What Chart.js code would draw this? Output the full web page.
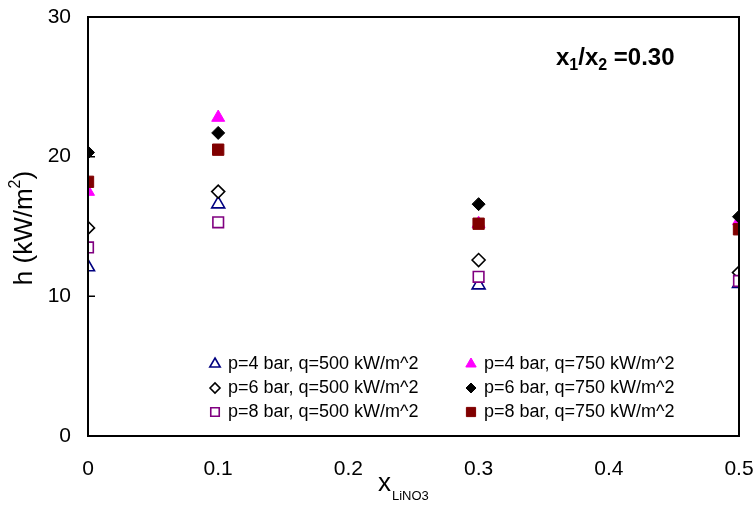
<!DOCTYPE html>
<html>
<head>
<meta charset="utf-8">
<script src="https://cdn.jsdelivr.net/npm/chart.js@4.4.1/dist/chart.umd.min.js"></script>
<style>
  body { margin: 0; background: #fff; }
  #wrap { width: 756px; height: 510px; }
</style>
</head>
<body>
<div id="wrap"><canvas id="hChart" width="756" height="510"></canvas></div>
<script>
// x_LiNO3 values and heat transfer coefficient h (kW/m2)
const xLiNO3 = [0, 0.1, 0.3, 0.5];
const p4q500 = [12.1, 16.6, 10.8, 10.9];
const p4q750 = [17.5, 22.8, 15.2, 15.4];
const p6q500 = [14.9, 17.5, 12.6, 11.7];
const p6q750 = [20.3, 21.7, 16.6, 15.7];
const p8q500 = [13.5, 15.3, 11.4, 11.1];
const p8q750 = [18.2, 20.5, 15.2, 14.8];

const seriesLabels = [
  "p=4 bar, q=500 kW/m^2",
  "p=4 bar, q=750 kW/m^2",
  "p=6 bar, q=500 kW/m^2",
  "p=6 bar, q=750 kW/m^2",
  "p=8 bar, q=500 kW/m^2",
  "p=8 bar, q=750 kW/m^2",
];
const xTicks = [0, 0.1, 0.2, 0.3, 0.4, 0.5];
const yTicks = [0, 10, 20, 30];

const FONT = "'Liberation Sans', Arial, sans-serif";

function pts(values) {
  return values.map((v, i) => ({ x: xLiNO3[i], y: v }));
}

function makeSet(label, values, style, color, filled, radius, idx) {
  return {
    label: label,
    data: pts(values),
    pointStyle: style,
    pointRadius: radius,
    pointHoverRadius: radius,
    pointBorderColor: color,
    pointBackgroundColor: filled ? color : "#ffffff",
    pointBorderWidth: filled ? 1 : 1.6,
    showLine: false,
    order: 6 - idx,
  };
}

const datasets = [
  makeSet(seriesLabels[0], p4q500, "triangle", "#000080", false, 7.5, 0),
  makeSet(seriesLabels[1], p4q750, "triangle", "#ff00ff", true, 7.5, 1),
  makeSet(seriesLabels[2], p6q500, "rectRot", "#000000", false, 6.5, 2),
  makeSet(seriesLabels[3], p6q750, "rectRot", "#000000", true, 6.5, 3),
  makeSet(seriesLabels[4], p8q500, "rect", "#800080", false, 7.5, 4),
  makeSet(seriesLabels[5], p8q750, "rect", "#800000", true, 8, 5),
];

// box, inner ticks, titles, annotation and the in-plot legend
const decor = {
  id: "decor",
  afterDraw(chart) {
    const ctx = chart.ctx;
    const a = chart.chartArea;
    const ys = chart.scales.y;
    ctx.save();

    ctx.strokeStyle = "#000";
    ctx.lineWidth = 2;
    ctx.strokeRect(a.left, a.top, a.right - a.left, a.bottom - a.top);

    ctx.lineWidth = 1.5;
    ctx.beginPath();
    yTicks.slice(1, -1).forEach((t) => {
      const y = ys.getPixelForValue(t);
      ctx.moveTo(a.left, y);
      ctx.lineTo(a.left + 7, y);
    });
    ctx.stroke();

    // y title: h (kW/m^2)
    ctx.fillStyle = "#000";
    ctx.save();
    ctx.translate(25, 228);
    ctx.rotate(-Math.PI / 2);
    ctx.textBaseline = "middle";
    ctx.textAlign = "left";
    const t1 = "h (kW/m";
    ctx.font = "26px " + FONT;
    const w1 = ctx.measureText(t1).width;
    ctx.font = "16px " + FONT;
    const w2 = ctx.measureText("2").width;
    ctx.font = "26px " + FONT;
    const w3 = ctx.measureText(")").width;
    const sx = -(w1 + w2 + w3) / 2;
    ctx.fillText(t1, sx, 0);
    ctx.font = "16px " + FONT;
    ctx.fillText("2", sx + w1, -9);
    ctx.font = "26px " + FONT;
    ctx.fillText(")", sx + w1 + w2, 0);
    ctx.restore();

    // x title: x_LiNO3
    ctx.textAlign = "left";
    ctx.textBaseline = "alphabetic";
    ctx.font = "26px " + FONT;
    ctx.fillText("x", 378, 491);
    ctx.font = "13px " + FONT;
    ctx.fillText("LiNO3", 392, 500);

    // annotation x1/x2 =0.30
    let ax = 556;
    const ay = 65;
    const parts = [
      ["x", "bold 24px", 0],
      ["1", "bold 16px", 5],
      ["/x", "bold 24px", 0],
      ["2", "bold 16px", 5],
      [" =0.30", "bold 24px", 0],
    ];
    parts.forEach((p) => {
      ctx.font = p[1] + " " + FONT;
      ctx.fillText(p[0], ax, ay + p[2]);
      ax += ctx.measureText(p[0]).width;
    });

    // legend, two columns
    const colX = [215, 471];
    const rowY = [363, 387, 411];
    ctx.font = "18px " + FONT;
    ctx.textBaseline = "middle";
    chart.data.datasets.forEach((ds, i) => {
      const cx = colX[i % 2];
      const cy = rowY[Math.floor(i / 2)];
      ctx.fillStyle = ds.pointBackgroundColor;
      ctx.strokeStyle = ds.pointBorderColor;
      ctx.lineWidth = ds.pointBorderWidth;
      Chart.helpers.drawPoint(ctx, {
        pointStyle: ds.pointStyle,
        radius: ds.pointRadius - 1.5,
        rotation: 0,
        borderWidth: ds.pointBorderWidth,
      }, cx, cy + 1);
      ctx.fillStyle = "#000";
      ctx.fillText(ds.label, cx + 13, cy + 1);
    });

    ctx.restore();
  },
};

new Chart(document.getElementById("hChart").getContext("2d"), {
  type: "scatter",
  data: { datasets: datasets },
  options: {
    responsive: false,
    animation: false,
    devicePixelRatio: 1,
    layout: { padding: { top: 17, right: 17, left: 0, bottom: 0 } },
    plugins: {
      legend: { display: false },
      tooltip: { enabled: false },
    },
    scales: {
      x: {
        type: "linear",
        min: 0,
        max: 0.5,
        afterBuildTicks: (s) => { s.ticks = xTicks.map((v) => ({ value: v })); },
        afterFit: (s) => {
          s.height = 74;
          s.paddingLeft = 0;
          s.paddingRight = 0;
        },
        grid: { display: false, drawTicks: false },
        border: { display: false },
        ticks: {
          padding: 21,
          color: "#000",
          font: { family: FONT, size: 21 },
          maxRotation: 0,
          callback: (v) => (v === 0 ? "0" : v.toFixed(1)),
        },
      },
      y: {
        type: "linear",
        min: 0,
        max: 30,
        afterBuildTicks: (s) => { s.ticks = yTicks.map((v) => ({ value: v })); },
        afterFit: (s) => {
          s.width = 88;
          s.paddingTop = 0;
          s.paddingBottom = 0;
        },
        grid: { display: false, drawTicks: false },
        border: { display: false },
        ticks: {
          padding: 17,
          color: "#000",
          font: { family: FONT, size: 21 },
        },
      },
    },
  },
  plugins: [decor],
});
</script>
</body>
</html>
